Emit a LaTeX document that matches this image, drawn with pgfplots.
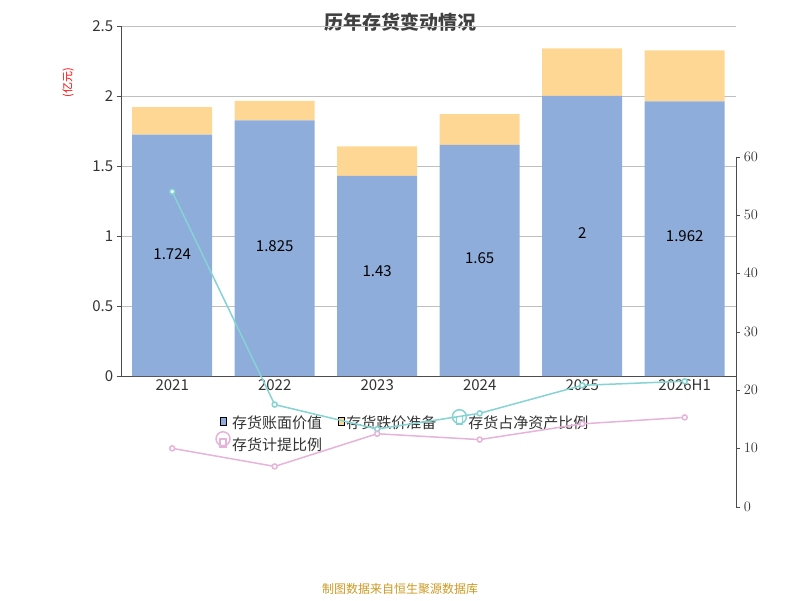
\documentclass[border=0pt]{standalone}
\usepackage{pgfplots}
\pgfplotsset{compat=1.18}
\usepackage{fontspec}
\setmainfont{Noto Sans CJK SC}
\definecolor{barA}{HTML}{8EADDB}
\definecolor{barB}{HTML}{FFD795}
\definecolor{lnA}{HTML}{86D3D3}
\definecolor{lnB}{HTML}{E6B3D9}
\begin{document}
\begin{tikzpicture}[x=1pt,y=1pt]
\path[use as bounding box] (0,0) rectangle (800,600);
\node[font=\bfseries\fontsize{19}{22}\selectfont, text=black!75] at (400,578) {历年存货变动情况};
\node[font=\fontsize{11}{13}\selectfont, text=red, rotate=90] at (68,517) {(亿元)};
\node[font=\fontsize{11}{13}\selectfont, text=red, rotate=90, anchor=north] at (806,92) {(\%)};
\node[font=\fontsize{12}{14}\selectfont, text={rgb,255:red,204;green,153;blue,34}] at (400,590-600+600-12-578+0) {};
\node[font=\fontsize{12}{14}\selectfont, text={rgb,255:red,204;green,153;blue,34}] at (400,11) {制图数据来自恒生聚源数据库};
\pgfplotsset{every axis/.style={at={(118,160)}, anchor=south west, scale only axis, width=615pt, height=350pt, xmin=-0.5, xmax=5.5}}
\begin{axis}[ybar stacked, bar width=80pt, ymin=0, ymax=2.5, ytick={0,0.5,1,1.5,2,2.5}, yticklabels={0,0.5,1,1.5,2,2.5},
  ymajorgrids, grid style={gray!50}, axis y line*=left, axis x line*=bottom, tick align=outside,
  xtick={0,...,5}, xticklabels={2021,2022,2023,2024,2025,2026H1},
  ticklabel style={font=\fontsize{15}{17}\selectfont, text=black!80},
  x tick label style={yshift=4pt},
  x axis line style={black!70}, y axis line style={black!70}, major tick style={black!70},
  extra x ticks={-0.5,0.5,1.5,2.5,3.5,4.5,5.5}, extra x tick labels={}, extra x tick style={major tick length=6pt},
  xtick style={draw=none},
  legend style={at={(0.459,-0.09)}, anchor=north, draw=none, legend columns=3, font=\fontsize{15}{17}\selectfont, text=black!80, /tikz/every even column/.append style={column sep=14pt}},
  legend cell align=left]
\addplot[fill=barA, draw=none] coordinates {(0,1.724)(1,1.825)(2,1.43)(3,1.65)(4,2)(5,1.962)};
\addplot[fill=barB, draw=none] coordinates {(0,0.196)(1,0.14)(2,0.21)(3,0.22)(4,0.34)(5,0.363)};
\addlegendentry{存货账面价值}\addlegendentry{存货跌价准备}
\addlegendimage{lnA, line width=1.5pt, mark=o, mark size=7pt, mark options={fill=white}}
\addlegendentry{存货占净资产比例}
\addlegendimage{lnB, line width=1.5pt, mark=o, mark size=7pt, mark options={fill=white}}
\addlegendentry{存货计提比例}
\end{axis}
\begin{axis}[ymin=0, ymax=2.5, axis lines=none]
\addplot[draw=none, nodes near coords, point meta=explicit symbolic, nodes near coords style={font=\fontsize{15}{17}\selectfont, anchor=center}] coordinates {(0,0.87)[1.724](1,0.93)[1.825](2,0.75)[1.43](3,0.84)[1.65](4,1.02)[2](5,1.0)[1.962]};
\end{axis}
\begin{axis}[ymin=0, ymax=60, ytick={0,10,...,60}, axis y line*=right, axis x line=none, tick align=outside,
  ticklabel style={font=\fontsize{15}{17}\selectfont, text=black!80}, y axis line style={black!70}, major tick style={black!70}]
\addplot[lnA, line width=1.5pt, mark=*, mark size=2.5pt, mark options={fill=white, draw=lnA}] coordinates {(0,54)(1,17.5)(2,13.3)(3,16)(4,20.8)(5,21.5)};
\addplot[lnB, line width=1.5pt, mark=*, mark size=2.5pt, mark options={fill=white, draw=lnB}] coordinates {(0,10)(1,6.9)(2,12.5)(3,11.5)(4,14.2)(5,15.3)};
\end{axis}
\end{tikzpicture}
\end{document}
